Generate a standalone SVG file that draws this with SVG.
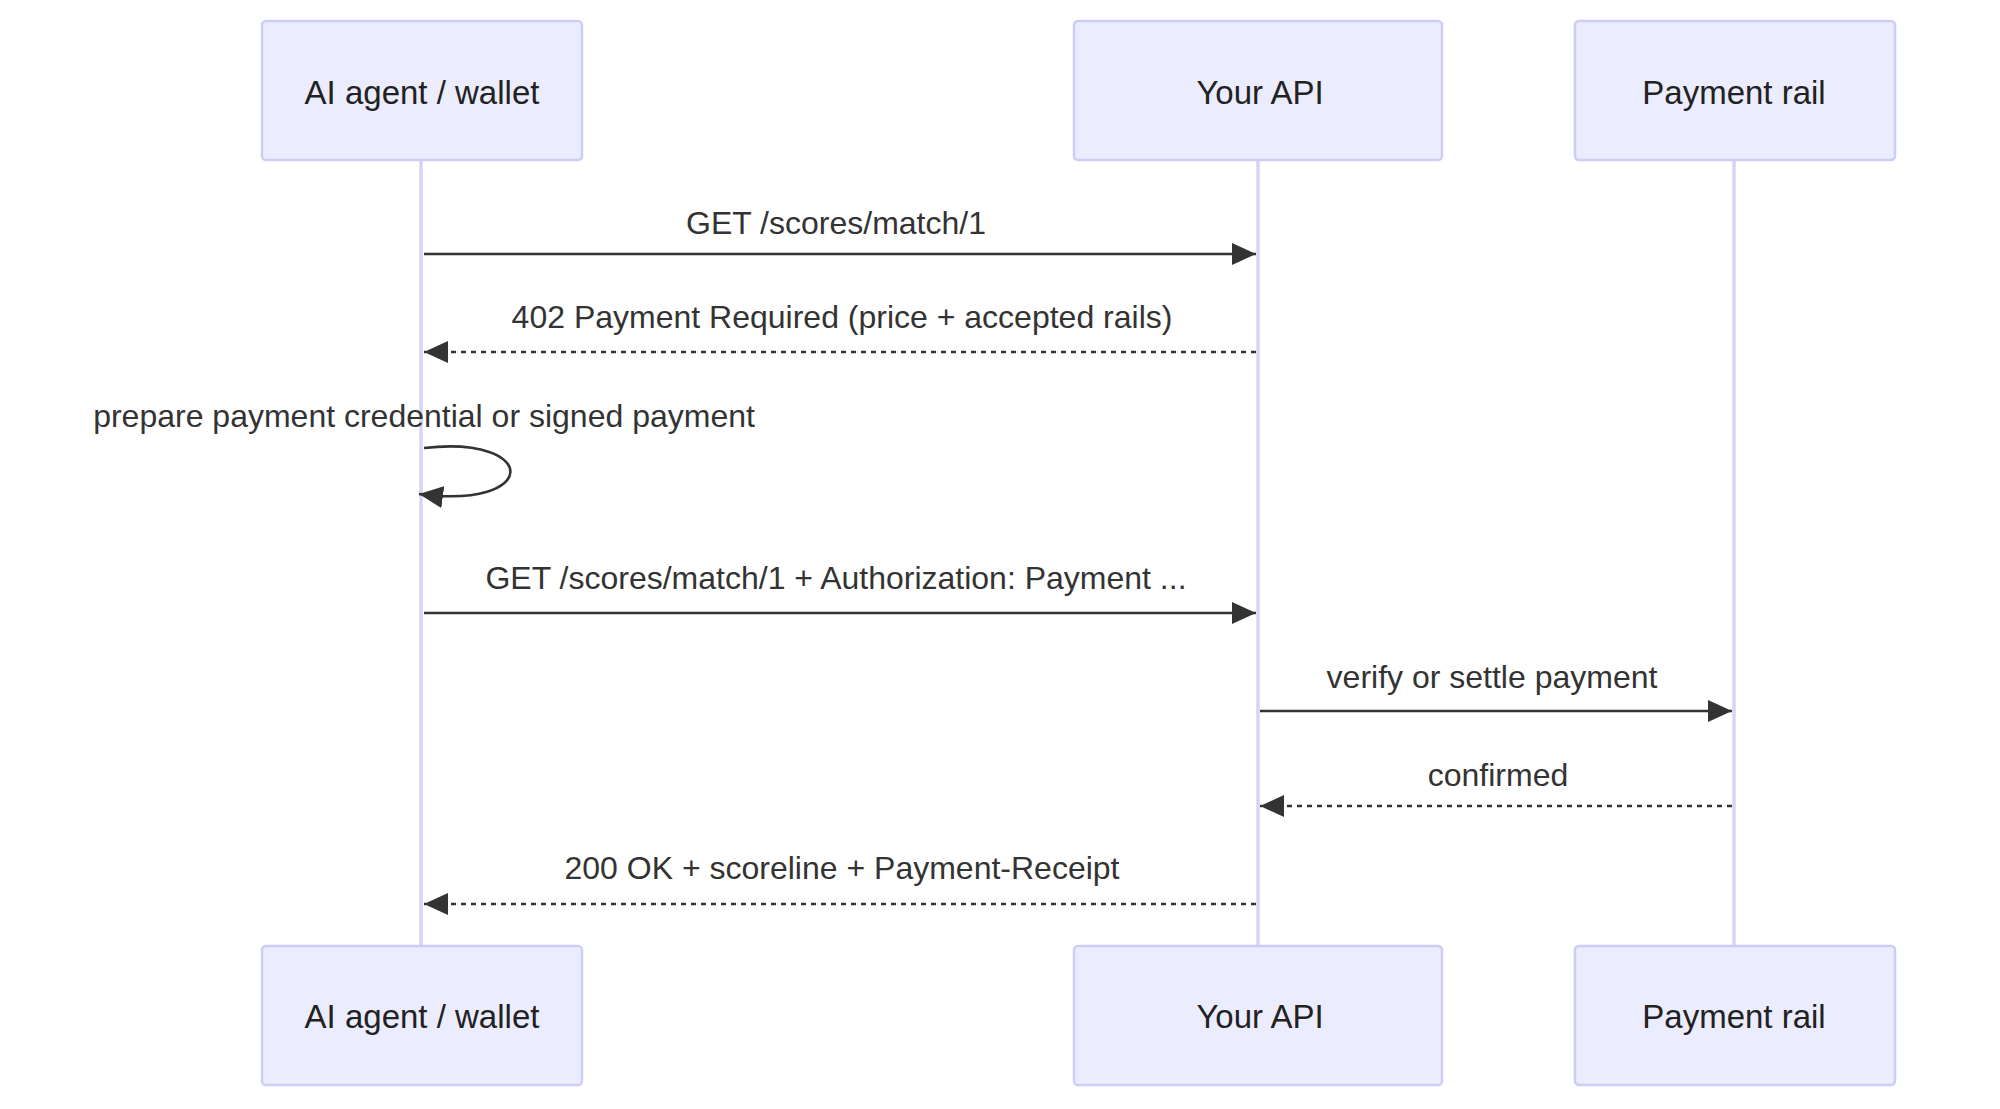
<svg xmlns="http://www.w3.org/2000/svg" width="2000" height="1109" viewBox="0 0 2000 1109">
<style>
.actor{fill:#ECECFF;stroke:#CDCDF5;stroke-width:2.5}
.at{font-family:"Liberation Sans",Arial,sans-serif;font-size:33px;fill:#222;text-anchor:middle;dominant-baseline:central}
.life{stroke:#D7D3F5;stroke-width:3.5}
.msg{stroke:#333;stroke-width:2.6;fill:none}
.dash{stroke-dasharray:5,5}
.mt{font-family:"Liberation Sans",Arial,sans-serif;font-size:32px;fill:#333;text-anchor:middle;dominant-baseline:central}
</style>
<defs>
<marker id="ah" markerUnits="userSpaceOnUse" markerWidth="26" markerHeight="22" refX="24" refY="11" orient="auto">
<path d="M0,0 L24,11 L0,22 z" fill="#333"/>
</marker>
</defs>
<rect width="2000" height="1109" fill="#fff"/>
<g id="lifelines">
<line class="life" x1="421" y1="160" x2="421" y2="946"/>
<line class="life" x1="1258" y1="160" x2="1258" y2="946"/>
<line class="life" x1="1734" y1="160" x2="1734" y2="946"/>
</g>
<g id="agent_top"><rect class="actor" x="262" y="21" width="320" height="139" rx="4"/><text class="at" x="422" y="92">AI agent / wallet</text></g>
<g id="api_top"><rect class="actor" x="1074" y="21" width="368" height="139" rx="4"/><text class="at" x="1260" y="92">Your API</text></g>
<g id="rail_top"><rect class="actor" x="1575" y="21" width="320" height="139" rx="4"/><text class="at" x="1734" y="92">Payment rail</text></g>
<g id="agent_bottom"><rect class="actor" x="262" y="946" width="320" height="139" rx="4"/><text class="at" x="422" y="1016">AI agent / wallet</text></g>
<g id="api_bottom"><rect class="actor" x="1074" y="946" width="368" height="139" rx="4"/><text class="at" x="1260" y="1016">Your API</text></g>
<g id="rail_bottom"><rect class="actor" x="1575" y="946" width="320" height="139" rx="4"/><text class="at" x="1734" y="1016">Payment rail</text></g>
<g id="connectors">
<line class="msg" x1="424" y1="254" x2="1256" y2="254" marker-end="url(#ah)"/>
<text class="mt" x="836" y="223">GET /scores/match/1</text>
<line class="msg dash" x1="1256" y1="352" x2="424" y2="352" marker-end="url(#ah)"/>
<text class="mt" x="842" y="317">402 Payment Required (price + accepted rails)</text>
<path class="msg" d="M424,448 C540,435 540,510 419,494" marker-end="url(#ah)"/>
<text class="mt" x="424" y="416">prepare payment credential or signed payment</text>
<line class="msg" x1="424" y1="613" x2="1256" y2="613" marker-end="url(#ah)"/>
<text class="mt" x="836" y="578">GET /scores/match/1 + Authorization: Payment ...</text>
<line class="msg" x1="1260" y1="711" x2="1732" y2="711" marker-end="url(#ah)"/>
<text class="mt" x="1492" y="677">verify or settle payment</text>
<line class="msg dash" x1="1732" y1="806" x2="1260" y2="806" marker-end="url(#ah)"/>
<text class="mt" x="1498" y="775">confirmed</text>
<line class="msg dash" x1="1256" y1="904" x2="424" y2="904" marker-end="url(#ah)"/>
<text class="mt" x="842" y="868">200 OK + scoreline + Payment-Receipt</text>
</g>
</svg>
